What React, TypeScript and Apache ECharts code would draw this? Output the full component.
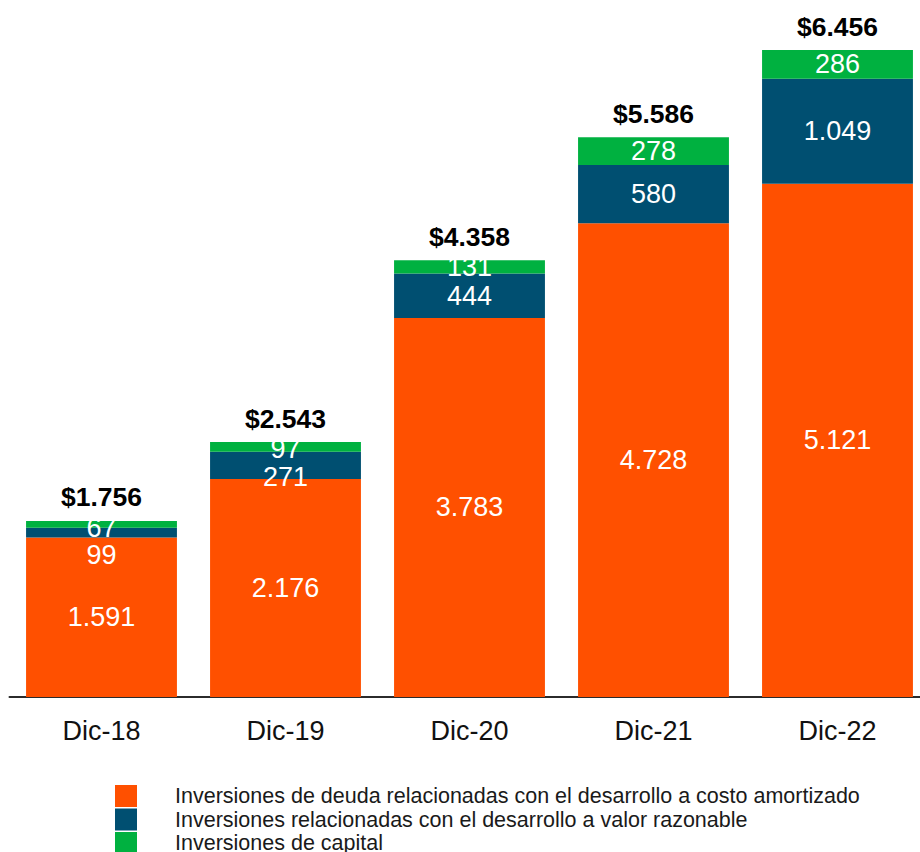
import React, { useEffect, useRef } from "react";
import * as echarts from "echarts";

const categories = ["Dic-18", "Dic-19", "Dic-20", "Dic-21", "Dic-22"];
const deudaCosto = [1591, 2176, 3783, 4728, 5121];
const valorRazonable = [99, 271, 444, 580, 1049];
const capital = [67, 97, 131, 278, 286];
const totals = [1756, 2543, 4358, 5586, 6456];
const seriesNames = [
  "Inversiones de deuda relacionadas con el desarrollo a costo amortizado",
  "Inversiones relacionadas con el desarrollo a valor razonable",
  "Inversiones de capital",
];

const FONT = "'Liberation Sans', Arial, sans-serif";

const fmt = (v: number) => v.toLocaleString("de-DE");

// label nudges (pixels) for small segments
const blueOffsets: Record<number, number[]> = { 0: [0, 22], 1: [0, 12] };
const greenOffsets: Record<number, number[]> = { 0: [0, 4], 1: [0, 2] };

export default function App() {
  const ref = useRef<HTMLDivElement>(null);
  useEffect(() => {
    if (!ref.current) return;
    const chart = echarts.init(ref.current, null, { renderer: "svg" });
    const innerLabel = {
      show: true,
      position: "inside",
      color: "#ffffff",
      fontSize: 27,
      fontFamily: FONT,
      formatter: (p: any) => fmt(p.value),
    };
    const mk = (vals: number[], offs: Record<number, number[]>) =>
      vals.map((v, i) =>
        offs[i] ? { value: v, label: { offset: offs[i] } } : { value: v }
      );
    chart.setOption({
      animation: false,
      grid: { left: 9.5, right: 10.5, top: 0, bottom: 155, containLabel: false },
      legend: {
        data: seriesNames,
        orient: "vertical",
        left: 115,
        top: 785,
        height: 120,
        padding: 0,
        itemWidth: 22,
        itemHeight: 22,
        itemGap: 1.5,
        icon: "rect",
        textStyle: {
          fontSize: 21.5,
          fontFamily: FONT,
          color: "#1a1a1a",
          padding: [0, 0, 0, 33],
        },
      },
      xAxis: {
        type: "category",
        data: categories,
        axisTick: { show: false },
        axisLine: { lineStyle: { color: "#2b2b2b", width: 2 } },
        axisLabel: { fontSize: 27, fontFamily: FONT, color: "#111", margin: 20 },
      },
      yAxis: {
        type: "value",
        min: 0,
        max: 6955,
        show: false,
        splitLine: { show: false },
      },
      series: [
        {
          name: seriesNames[0],
          type: "bar",
          stack: "total",
          barCategoryGap: "18%",
          itemStyle: { color: "#FF5000" },
          label: innerLabel,
          data: deudaCosto,
        },
        {
          name: seriesNames[1],
          type: "bar",
          stack: "total",
          itemStyle: { color: "#004F71" },
          label: innerLabel,
          data: mk(valorRazonable, blueOffsets),
        },
        {
          name: seriesNames[2],
          type: "bar",
          stack: "total",
          itemStyle: { color: "#00B140" },
          label: innerLabel,
          data: mk(capital, greenOffsets),
        },
        {
          name: "Total",
          type: "bar",
          stack: "total",
          itemStyle: { color: "transparent" },
          label: {
            show: true,
            position: "top",
            distance: 10,
            color: "#000",
            fontWeight: "bold",
            fontSize: 26.5,
            fontFamily: FONT,
            formatter: (p: any) => "$" + fmt(totals[p.dataIndex]),
          },
          data: totals.map(() => 0),
        },
      ],
    });
    return () => chart.dispose();
  }, []);
  return (
    <div
      style={{ position: "fixed", left: 0, top: 0, width: 920, height: 852, overflow: "hidden", background: "#fff" }}
    >
      <div ref={ref} style={{ width: 940, height: 852 }} />
    </div>
  );
}
